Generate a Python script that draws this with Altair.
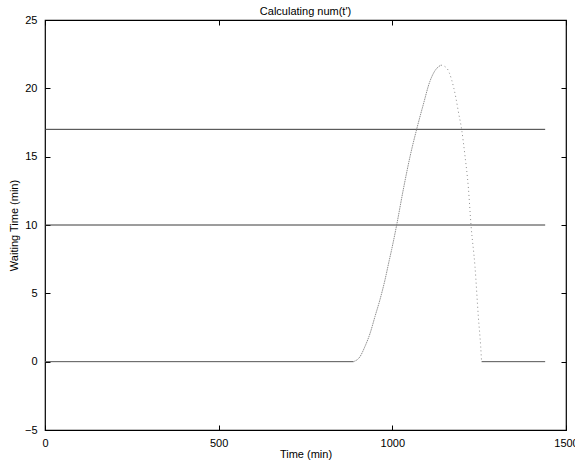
import altair as alt
import pandas as pd

# flat zero segments (min, value)
flat_left_t = [0, 888]
flat_left_v = [0, 0]
flat_right_t = [1257, 1440]
flat_right_v = [0, 0]

# rising part of num(t')
rise_t = [888, 907, 921, 936, 950, 964, 979, 991, 998, 1012.5, 1031.6, 1050.9, 1070, 1089, 1108, 1123, 1140]
rise_v = [0, 0.37, 1.1, 2.08, 3.3, 4.5, 6.0, 7.4, 8.2, 10.0, 12.6, 15.0, 17.0, 18.8, 20.5, 21.3, 21.7]
# falling part
fall_t = [1140, 1156, 1171, 1183, 1190, 1199.5, 1209, 1219, 1226.5, 1238, 1247.6, 1254.4, 1257]
fall_v = [21.7, 21.5, 20.6, 19.3, 18.3, 17.0, 15.1, 12.7, 10.0, 6.95, 3.3, 1.1, 0]

# horizontal threshold lines
thresh_levels = [17, 10]
thresh_span = [0, 1440]

x_ticks = [0, 500, 1000, 1500]
y_ticks = [-5, 0, 5, 10, 15, 20, 25]

FONT = "Liberation Sans"

xs = alt.Scale(domain=[0, 1500], nice=False, zero=False)
ys = alt.Scale(domain=[-5, 25], nice=False, zero=False)

def df(t, v, g):
    return pd.DataFrame({"t": t, "v": v, "g": g})

flat = pd.concat([df(flat_left_t, flat_left_v, "L"), df(flat_right_t, flat_right_v, "R")])
rise = df(rise_t, rise_v, "rise")
fall = df(fall_t, fall_v, "fall")
thr = pd.concat([df(thresh_span, [lv, lv], f"h{lv}") for lv in thresh_levels])

xaxis = alt.Axis(values=x_ticks, title="Time (min)", grid=False, domain=False, format="d",
                 tickSize=5, offset=-5, labelPadding=7, tickColor="black",
                 labelFont=FONT, labelFontSize=11, labelColor="black",
                 titleFont=FONT, titleFontSize=11, titleFontWeight="normal",
                 titleColor="black", titlePadding=0, labelFlush=False)
yaxis = alt.Axis(values=y_ticks, title="Waiting Time (min)", grid=False, domain=False, format="d",
                 tickSize=5, offset=-5, labelPadding=8, tickColor="black",
                 labelFont=FONT, labelFontSize=11, labelColor="black",
                 titleFont=FONT, titleFontSize=11, titleFontWeight="normal",
                 titleColor="black", titlePadding=5, labelFlush=False)
xaxis_top = alt.Axis(values=x_ticks, title=None, labels=False, grid=False, domain=False,
                     tickSize=5, offset=-5, orient="top", tickColor="black")
yaxis_right = alt.Axis(values=y_ticks, title=None, labels=False, grid=False, domain=False,
                       tickSize=5, offset=-5, orient="right", tickColor="black")

base_thr = alt.Chart(thr).mark_line(color="#3a3a3a", strokeWidth=1).encode(
    x=alt.X("t:Q", scale=xs, axis=xaxis),
    y=alt.Y("v:Q", scale=ys, axis=yaxis),
    detail="g:N",
)
flat_l = alt.Chart(flat).mark_line(color="#555555", strokeWidth=1).encode(
    x=alt.X("t:Q", scale=xs, axis=xaxis_top),
    y=alt.Y("v:Q", scale=ys, axis=yaxis_right),
    detail="g:N",
)
rise_l = alt.Chart(rise).mark_line(color="#808080", strokeWidth=0.9, interpolate="monotone",
                                   strokeDash=[1.5, 0.8]).encode(
    x=alt.X("t:Q", scale=xs, axis=None),
    y=alt.Y("v:Q", scale=ys, axis=None),
)
fall_l = alt.Chart(fall).mark_line(color="#808080", strokeWidth=0.9, interpolate="monotone",
                                   strokeDash=[1, 3]).encode(
    x=alt.X("t:Q", scale=xs, axis=None),
    y=alt.Y("v:Q", scale=ys, axis=None),
)

chart = alt.layer(base_thr, flat_l, rise_l, fall_l).resolve_axis(
    x="independent", y="independent"
).properties(
    width=521, height=410,
    title=alt.TitleParams("Calculating num(t')", font=FONT, fontSize=11,
                          fontWeight="normal", color="black", offset=-3),
    autosize="none",
    padding={"left": 45, "top": 20, "right": 9, "bottom": 36},
).configure_view(stroke="black", strokeWidth=1.2)

chart.save("out.html", embed_options={"renderer": "svg", "actions": False})
